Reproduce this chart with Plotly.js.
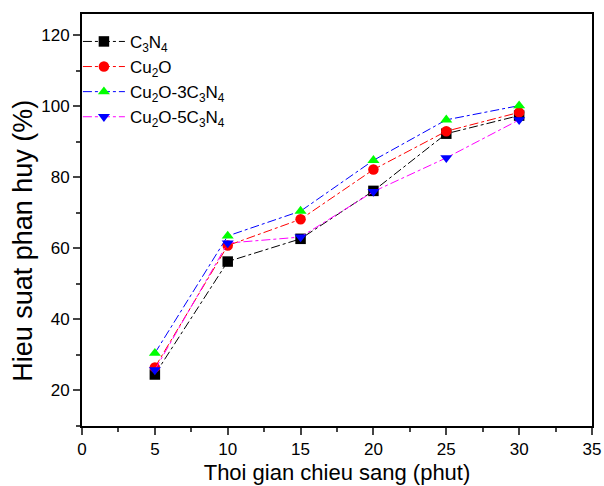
<!DOCTYPE html>
<html><head><meta charset="utf-8">
<script src="https://cdn.plot.ly/plotly-3.0.1.min.js"></script>
<style>html,body{margin:0;padding:0;background:#fff}#c{width:604px;height:486px}</style>
</head><body><div id="c"></div>
<script>
const time = [5, 10, 15, 20, 25, 30];
const c3n4 = [24.5, 56.3, 62.7, 76.2, 92.3, 97.4];
const cu2o = [26.5, 60.8, 68.2, 82.2, 93.0, 98.3];
const cu2o3 = [30.5, 63.5, 70.5, 84.8, 96.2, 100.2];
const cu2o5 = [25.8, 61.5, 63.2, 76.0, 85.5, 96.2];
const names = ['C<sub>3</sub>N<sub>4</sub>', 'Cu<sub>2</sub>O', 'Cu<sub>2</sub>O-3C<sub>3</sub>N<sub>4</sub>', 'Cu<sub>2</sub>O-5C<sub>3</sub>N<sub>4</sub>'];
const xTicks = [0, 5, 10, 15, 20, 25, 30, 35];
const yTicks = [20, 40, 60, 80, 100, 120];
const xTitle = 'Thoi gian chieu sang (phut)';
const yTitle = 'Hieu suat phan huy (%)';

function tr(y, name, lc, mc, sym, g){
  return {x: time, y: y, name: name, legendgroup: g, type:'scatter', mode:'lines+markers',
    line:{color:lc, width:1, dash:'dashdot'},
    marker:{color:mc, symbol:sym, size:10.5}};
}
const data = [
  tr(c3n4, names[0], '#000000', '#000000', 'square', 'a'),
  tr(cu2o, names[1], '#ff0000', '#ff0000', 'circle', 'b'),
  tr(cu2o3, names[2], '#0000ff', '#00ff00', 'triangle-up', 'c'),
  tr(cu2o5, names[3], '#ff00ff', '#0000ff', 'triangle-down', 'd')
];
const layout = {
  width:604, height:486,
  margin:{l:82, r:12, t:14, b:60},
  paper_bgcolor:'#fff', plot_bgcolor:'#fff',
  font:{family:'Liberation Sans, Arial, sans-serif', color:'#000', size:17},
  showlegend:true,
  legend:{x:-0.008, y:0.976, xanchor:'left', yanchor:'top', bgcolor:'rgba(0,0,0,0)', font:{size:17},
    tracegroupgap:11, itemwidth:42, traceorder:'normal'},
  xaxis:{range:[0,35], tickvals:xTicks, showline:true, linewidth:2, linecolor:'#000', mirror:true,
    ticks:'outside', ticklen:7, tickwidth:2, showgrid:false, zeroline:false, ticklabeloverflow:'allow',
    minor:{ticks:'outside', ticklen:4, tickwidth:2, dtick:2.5, tick0:0, showgrid:false},
    title:{text:xTitle, font:{size:22}, standoff:6}, tickfont:{size:17}},
  yaxis:{range:[10,126], tickvals:yTicks, showline:true, linewidth:2, linecolor:'#000', mirror:true,
    ticks:'outside', ticklen:7, tickwidth:2, showgrid:false, zeroline:false,
    minor:{ticks:'outside', ticklen:4, tickwidth:2, dtick:10, tick0:0, showgrid:false},
    tickfont:{size:17}},
  annotations:[{text:yTitle, xref:'paper', yref:'paper', x:-0.116, y:0.449, xanchor:'center', yanchor:'middle',
    textangle:-90, showarrow:false, font:{size:27}}]
};
Plotly.newPlot('c', data, layout, {displayModeBar:false, staticPlot:true});
</script></body></html>
